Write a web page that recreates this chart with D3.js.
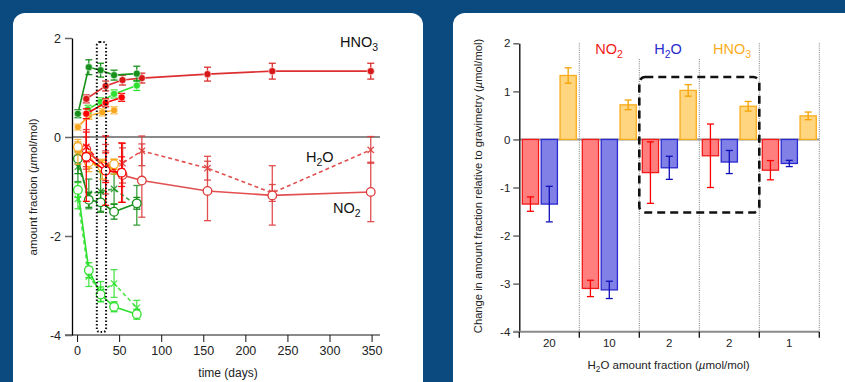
<!DOCTYPE html>
<html>
<head>
<meta charset="utf-8">
<script src="https://cdn.jsdelivr.net/npm/d3@7"></script>
<style>
  body { margin: 0; background: #0b4a7e; }
  svg { display: block; font-family: "Liberation Sans", Arial, Helvetica, sans-serif; }
</style>
</head>
<body>
<svg id="chart" width="845" height="382"></svg>
<script>
// ---- left chart: [days, amount fraction change, uncertainty] ----
const hno3DarkGreen = [[1, 0.47, 0.08], [14, 1.41, 0.15], [28, 1.35, 0.14], [44, 1.25, 0.1], [71, 1.28, 0.15]];
const hno3Green = [[13, 0.56, 0.08], [28, 0.71, 0.08], [44, 0.87, 0.08], [71, 1.04, 0.1]];
const hno3DarkRed = [[11, 0.77, 0.08], [34, 1.03, 0.1], [54, 1.15, 0.1], [77, 1.19, 0.1], [155, 1.27, 0.14], [232, 1.33, 0.16], [349, 1.33, 0.16]];
const hno3Red = [[11, 0.47, 0.1], [34, 0.69, 0.08], [53, 0.8, 0.08]];
const hno3Orange = [[1, 0.2, 0.06], [14, 0.43, 0.07], [30, 0.5, 0.07], [44, 0.54, 0.07]];

const no2DarkGreen = [[1, -0.44, 0.3], [14, -1.27, 0.15], [28, -1.32, 0.2], [44, -1.51, 0.15], [71, -1.34, 0.12]];
const no2Green = [[1, -1.07, 0.15], [14, -2.69, 0.15], [28, -3.18, 0.15], [44, -3.43, 0.1], [71, -3.58, 0.1]];
const no2DarkRed = [[11, -0.25, 0.4], [34, -0.65, 0.5], [54, -0.77, 0.55], [77, -0.88, 0.74], [155, -1.09, 0.6], [232, -1.18, 0.6], [349, -1.11, 0.6]];
const no2Red = [[11, -0.4, 0.9], [34, -0.68, 0.7], [53, -0.72, 0.6]];
const no2Orange = [[1, -0.2, 0.1], [14, -0.51, 0.12], [30, -0.6, 0.12], [44, -0.55, 0.1]];

const h2oDarkGreen = [[1, -0.6, 0.3], [14, -1.15, 0.3], [28, -1.1, 0.4], [44, -1.05, 0.3], [71, -1.38, 0.4]];
const h2oGreen = [[1, -1.25, 0.2], [14, -2.82, 0.2], [28, -3.12, 0.2], [44, -2.96, 0.28], [71, -3.45, 0.15]];
const h2oDarkRed = [[11, -0.3, 0.3], [34, -0.58, 0.3], [54, -0.53, 0.4], [77, -0.28, 0.3], [155, -0.63, 0.24], [232, -1.13, 0.17], [349, -0.26, 0.27]];
const h2oRed = [[11, -0.2, 0.3], [34, -0.62, 0.3], [53, -0.7, 0.3]];
const h2oOrange = [[1, -0.3, 0.25], [14, -0.5, 0.2], [30, -0.65, 0.2], [44, -0.6, 0.15]];

const dayTicks = [0, 50, 100, 150, 200, 250, 300, 350];
const leftYTicks = [-4, -2, 0, 2];

// ---- right chart ----
const groupLabels = ["20", "10", "2", "2", "1"];
const species = ["NO2", "H2O", "HNO3"];
const no2Change = [-1.345, -3.1, -0.69, -0.34, -0.64];
const no2Err = [0.15, 0.17, 0.64, 0.66, 0.2];
const h2oChange = [-1.345, -3.13, -0.59, -0.47, -0.5];
const h2oErr = [0.37, 0.18, 0.24, 0.24, 0.065];
const hno3Change = [1.33, 0.72, 1.02, 0.69, 0.49];
const hno3Err = [0.16, 0.1, 0.12, 0.1, 0.08];
const rightYTicks = [-4, -3, -2, -1, 0, 1, 2];

const svg = d3.select('#chart');

// panels
svg.append('rect').attr('x', 13).attr('y', 13).attr('width', 410).attr('height', 420)
  .attr('rx', 12).attr('fill', '#fff');
svg.append('rect').attr('x', 453).attr('y', 13).attr('width', 420).attr('height', 420)
  .attr('rx', 12).attr('fill', '#fff');

// formula text with subscripts; size = base font size in px
function chem(sel, parts, size) {
  var shift = 0;
  parts.forEach(p => {
    var t = sel.append('tspan').text(p.t);
    if (p.sub) {
      t.attr('font-size', size * 0.72).attr('dy', size * 0.28);
      shift = size * 0.28;
    } else {
      if (shift) t.attr('dy', -shift);
      shift = 0;
    }
  });
}

// =================== LEFT CHART ===================
var x = d3.scaleLinear().domain([-6, 360]).range([72, 380]);
var y = d3.scaleLinear().domain([-4, 2]).range([335, 38]);

var left = svg.append('g');

// zero line
left.append('line')
  .attr('x1', x.range()[0]).attr('x2', x.range()[1])
  .attr('y1', y(0)).attr('y2', y(0))
  .attr('stroke', '#8a8a8a').attr('stroke-width', 2);

// x axis
var xAxis = left.append('g').attr('transform', 'translate(0,' + y(-4) + ')')
  .call(d3.axisBottom(x).tickValues(dayTicks).tickSize(7).tickSizeOuter(0).tickPadding(4));
xAxis.select('.domain').attr('stroke', '#8a8a8a').attr('stroke-width', 2)
  .attr('d', 'M65,0H' + x.range()[1]);
xAxis.selectAll('.tick line').attr('stroke', '#111');
xAxis.selectAll('.tick text').attr('font-size', 12.5).attr('fill', '#222')
  .attr('font-family', '"Liberation Sans", Arial, sans-serif');

// y axis
var yAxis = left.append('g').attr('transform', 'translate(' + x.range()[0] + ',0)')
  .call(d3.axisLeft(y).tickValues(leftYTicks).tickFormat(d => String(d)).tickSize(7).tickSizeOuter(0).tickPadding(4));
yAxis.select('.domain').attr('stroke', '#000').attr('stroke-width', 1.3);
yAxis.selectAll('.tick line').attr('stroke', '#666').attr('stroke-width', 1.5);
yAxis.selectAll('.tick text').attr('font-size', 12.5).attr('fill', '#222')
  .attr('font-family', '"Liberation Sans", Arial, sans-serif');

// axis titles
left.append('text').attr('x', 228).attr('y', 377).attr('text-anchor', 'middle')
  .attr('font-size', 12).attr('fill', '#222').text('time (days)');
var ylab = left.append('text').attr('transform', 'translate(37,187) rotate(-90)')
  .attr('text-anchor', 'middle').attr('font-size', 11.5).attr('fill', '#222');
ylab.append('tspan').text('amount fraction (');
ylab.append('tspan').attr('font-style', 'italic').text('\u00b5');
ylab.append('tspan').text('mol/mol)');

var line = d3.line().x(d => x(d[0])).y(d => y(d[1]));

function errorBars(g, data, color, opacity) {
  var eb = g.append('g').attr('stroke', color).attr('stroke-width', 1.3).attr('opacity', opacity);
  eb.selectAll('line.v').data(data).enter().append('line').attr('class', 'v')
    .attr('x1', d => x(d[0])).attr('x2', d => x(d[0]))
    .attr('y1', d => y(d[1] + d[2])).attr('y2', d => y(d[1] - d[2]));
  eb.selectAll('line.t').data(data).enter().append('line').attr('class', 't')
    .attr('x1', d => x(d[0]) - 3.5).attr('x2', d => x(d[0]) + 3.5)
    .attr('y1', d => y(d[1] + d[2])).attr('y2', d => y(d[1] + d[2]));
  eb.selectAll('line.b').data(data).enter().append('line').attr('class', 'b')
    .attr('x1', d => x(d[0]) - 3.5).attr('x2', d => x(d[0]) + 3.5)
    .attr('y1', d => y(d[1] - d[2])).attr('y2', d => y(d[1] - d[2]));
}

function series(data, color, kind, opacity) {
  var g = left.append('g');
  errorBars(g, data, color, opacity);
  g.append('path').datum(data).attr('d', line).attr('fill', 'none')
    .attr('stroke', color).attr('stroke-width', 1.6).attr('opacity', opacity)
    .attr('stroke-dasharray', kind === 'h2o' ? '4,3' : null);
  if (kind === 'hno3') {
    g.selectAll('circle').data(data).enter().append('circle')
      .attr('cx', d => x(d[0])).attr('cy', d => y(d[1])).attr('r', 3.6)
      .attr('fill', color).attr('stroke', '#fff').attr('stroke-width', 0.6);
  } else if (kind === 'no2') {
    g.selectAll('circle').data(data).enter().append('circle')
      .attr('cx', d => x(d[0])).attr('cy', d => y(d[1])).attr('r', 4.3)
      .attr('fill', '#fff').attr('stroke', color).attr('stroke-width', 1.3);
  } else {
    g.selectAll('path.m').data(data).enter().append('path').attr('class', 'm')
      .attr('d', d3.symbol().type(d3.symbolTimes).size(28))
      .attr('transform', d => 'translate(' + x(d[0]) + ',' + y(d[1]) + ')')
      .attr('fill', 'none').attr('stroke', color).attr('stroke-width', 1.3).attr('opacity', opacity);
  }
}

var cDarkRed = '#de3c3c', cRed = '#f00', cDarkGreen = '#18911c', cGreen = '#30e030', cOrange = '#f7a61e';

series(h2oDarkRed, cDarkRed, 'h2o', 0.9);
series(no2DarkRed, cDarkRed, 'no2', 0.9);
series(hno3DarkRed, '#d81818', 'hno3', 0.9);
series(h2oGreen, cGreen, 'h2o', 0.85);
series(no2Green, cGreen, 'no2', 1);
series(h2oDarkGreen, cDarkGreen, 'h2o', 0.85);
series(no2DarkGreen, cDarkGreen, 'no2', 1);
series(h2oOrange, cOrange, 'h2o', 0.85);
series(no2Orange, cOrange, 'no2', 1);
series(h2oRed, cRed, 'h2o', 0.9);
series(no2Red, cRed, 'no2', 1);
series(hno3Orange, cOrange, 'hno3', 1);
series(hno3Green, cGreen, 'hno3', 1);
series(hno3Red, cRed, 'hno3', 1);
series(hno3DarkGreen, cDarkGreen, 'hno3', 1);

// dotted highlight box
left.append('rect')
  .attr('x', x(23.5)).attr('y', y(1.92))
  .attr('width', x(34.5) - x(23.5)).attr('height', y(-3.94) - y(1.92))
  .attr('rx', 3).attr('fill', 'none').attr('stroke', '#111')
  .attr('stroke-width', 2).attr('stroke-dasharray', '1.5,2');

// series labels
chem(left.append('text').attr('x', 340).attr('y', 47).attr('font-size', 14.5).attr('fill', '#111'),
  [{t: 'HNO'}, {t: '3', sub: true}], 14.5);
chem(left.append('text').attr('x', 306).attr('y', 162).attr('font-size', 14.5).attr('fill', '#111'),
  [{t: 'H'}, {t: '2', sub: true}, {t: 'O'}], 14.5);
chem(left.append('text').attr('x', 333).attr('y', 213).attr('font-size', 14.5).attr('fill', '#111'),
  [{t: 'NO'}, {t: '2', sub: true}], 14.5);

// =================== RIGHT CHART ===================
var gx = d3.scaleBand().domain(d3.range(groupLabels.length)).range([519.3, 819.3]).padding(0);
var sx = d3.scaleBand().domain(species).range([0, gx.bandwidth()]).paddingInner(0.14).paddingOuter(0.16);
var ry = d3.scaleLinear().domain([-4, 2]).range([331.7, 43.3]);

var right = svg.append('g');

// group separators
var sepStart = [43.3, 43.3, 59, 59, 43.3, 43.3];
right.selectAll('line.sep').data(d3.range(1, groupLabels.length + 1)).enter().append('line')
  .attr('class', 'sep')
  .attr('x1', i => i < groupLabels.length ? gx(i) : gx(i - 1) + gx.bandwidth())
  .attr('x2', i => i < groupLabels.length ? gx(i) : gx(i - 1) + gx.bandwidth())
  .attr('y1', i => sepStart[i]).attr('y2', ry(-4))
  .attr('stroke', '#555').attr('stroke-width', 0.8).attr('stroke-dasharray', '1,1.2');

// zero line
right.append('line').attr('x1', gx.range()[0]).attr('x2', gx.range()[1])
  .attr('y1', ry(0)).attr('y2', ry(0)).attr('stroke', '#999').attr('stroke-width', 2);

var speciesValues = {NO2: [no2Change, no2Err], H2O: [h2oChange, h2oErr], HNO3: [hno3Change, hno3Err]};
var fills = {NO2: '#ff7e7e', H2O: '#8080e6', HNO3: '#ffd57f'};
var strokes = {NO2: '#f21a1a', H2O: '#2a2ad0', HNO3: '#f8ad1c'};
var errColors = {NO2: '#f00', H2O: '#1010b8', HNO3: '#f4a300'};

var barData = [];
groupLabels.forEach((g, i) => {
  species.forEach(s => {
    barData.push({g: i, s: s, v: speciesValues[s][0][i], e: speciesValues[s][1][i]});
  });
});

right.selectAll('rect.bar').data(barData).enter().append('rect').attr('class', 'bar')
  .attr('x', d => gx(d.g) + sx(d.s)).attr('width', sx.bandwidth())
  .attr('y', d => ry(Math.max(0, d.v))).attr('height', d => Math.abs(ry(d.v) - ry(0)))
  .attr('fill', d => fills[d.s]).attr('stroke', d => strokes[d.s]).attr('stroke-width', 1.3);

var eg = right.append('g');
barData.forEach(d => {
  var cx = gx(d.g) + sx(d.s) + sx.bandwidth() / 2;
  var c = errColors[d.s];
  eg.append('line').attr('x1', cx).attr('x2', cx).attr('y1', ry(d.v + d.e)).attr('y2', ry(d.v - d.e))
    .attr('stroke', c).attr('stroke-width', 1.3);
  [d.v + d.e, d.v - d.e].forEach(v => {
    eg.append('line').attr('x1', cx - 3.5).attr('x2', cx + 3.5).attr('y1', ry(v)).attr('y2', ry(v))
      .attr('stroke', c).attr('stroke-width', 1.3);
  });
});

// y axis
var ryAxis = right.append('g').attr('transform', 'translate(' + gx.range()[0] + ',0)')
  .call(d3.axisLeft(ry).tickValues(rightYTicks).tickFormat(d => String(d)).tickSize(6).tickSizeOuter(0).tickPadding(3));
ryAxis.select('.domain').attr('stroke', '#000').attr('stroke-width', 1.3);
ryAxis.selectAll('.tick line').attr('stroke', '#666').attr('stroke-width', 1.5);
ryAxis.selectAll('.tick text').attr('font-size', 11.5).attr('fill', '#222')
  .attr('font-family', '"Liberation Sans", Arial, sans-serif');

// x axis
right.append('line').attr('x1', gx.range()[0] - 6).attr('x2', gx.range()[1])
  .attr('y1', ry(-4)).attr('y2', ry(-4)).attr('stroke', '#8a8a8a').attr('stroke-width', 2);
right.selectAll('line.xt').data(d3.range(groupLabels.length + 1)).enter().append('line')
  .attr('class', 'xt')
  .attr('x1', i => gx.range()[0] + i * gx.step()).attr('x2', i => gx.range()[0] + i * gx.step())
  .attr('y1', ry(-4)).attr('y2', ry(-4) + 6).attr('stroke', '#111').attr('stroke-width', 1.3);
right.selectAll('text.gl').data(groupLabels).enter().append('text').attr('class', 'gl')
  .attr('x', (d, i) => gx(i) + gx.bandwidth() / 2).attr('y', 347)
  .attr('text-anchor', 'middle').attr('font-size', 11.5).attr('fill', '#222').text(d => d);

// axis titles
var rxl = right.append('text').attr('x', 668.5).attr('y', 369).attr('text-anchor', 'middle')
  .attr('font-size', 11.5).attr('fill', '#222');
chem(rxl, [{t: 'H'}, {t: '2', sub: true}, {t: 'O amount fraction ('}], 11.5);
rxl.append('tspan').attr('font-style', 'italic').text('\u00b5');
rxl.append('tspan').text('mol/mol)');

var ryl = right.append('text').attr('transform', 'translate(482,186) rotate(-90)')
  .attr('text-anchor', 'middle').attr('font-size', 11.2).attr('fill', '#222');
ryl.append('tspan').text('Change in amount fraction relative to gravimetry (');
ryl.append('tspan').attr('font-style', 'italic').text('\u00b5');
ryl.append('tspan').text('mol/mol)');

// species labels
chem(right.append('text').attr('x', 609).attr('y', 54).attr('text-anchor', 'middle')
  .attr('font-size', 14.5).attr('fill', '#f21a1a'), [{t: 'NO'}, {t: '2', sub: true}], 14.5);
chem(right.append('text').attr('x', 668).attr('y', 54).attr('text-anchor', 'middle')
  .attr('font-size', 14.5).attr('fill', '#2a2ad0'), [{t: 'H'}, {t: '2', sub: true}, {t: 'O'}], 14.5);
chem(right.append('text').attr('x', 732).attr('y', 54).attr('text-anchor', 'middle')
  .attr('font-size', 14.5).attr('fill', '#f8ad1c'), [{t: 'HNO'}, {t: '3', sub: true}], 14.5);

// dashed highlight box
right.append('rect')
  .attr('x', gx(2)).attr('y', ry(1.3))
  .attr('width', gx(3) + gx.bandwidth() - gx(2)).attr('height', ry(-1.52) - ry(1.3))
  .attr('rx', 6).attr('fill', 'none').attr('stroke', '#111')
  .attr('stroke-width', 2.6).attr('stroke-dasharray', '8,5');
</script>
</body>
</html>
